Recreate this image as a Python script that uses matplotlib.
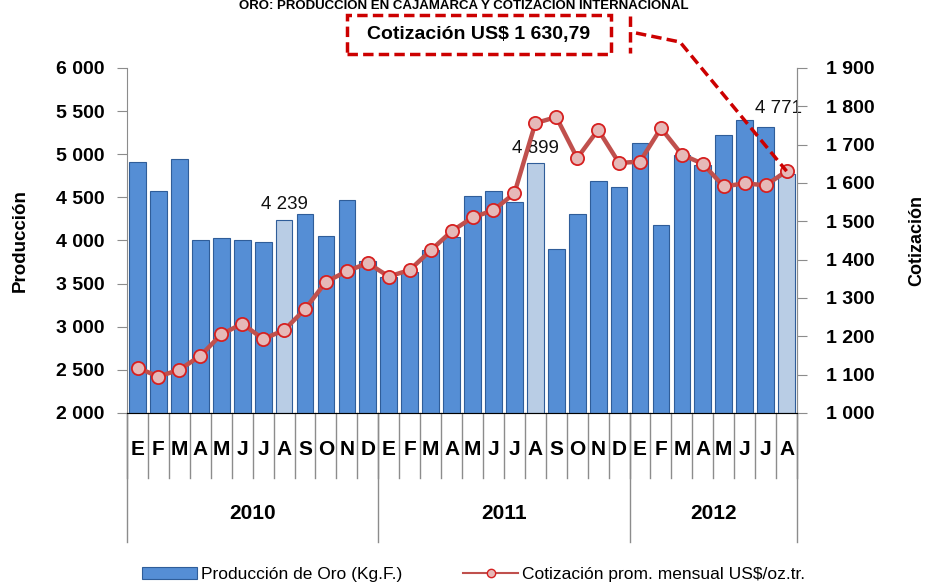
import numpy as np
import matplotlib
matplotlib.use("Agg")
import matplotlib.pyplot as plt
from matplotlib.patches import Patch, Rectangle
from matplotlib.lines import Line2D

plt.rcParams['font.family'] = ['Liberation Sans', 'DejaVu Sans']

months = ["E", "F", "M", "A", "M", "J", "J", "A", "S", "O", "N", "D",
          "E", "F", "M", "A", "M", "J", "J", "A", "S", "O", "N", "D",
          "E", "F", "M", "A", "M", "J", "J", "A"]
years = ["2010", "2011", "2012"]
months_per_year = [12, 12, 8]

# production of gold (Kg.F.)
produccion = [4910, 4570, 4940, 4010, 4030, 4010, 3985, 4239, 4310, 4050, 4470, 3760,
              3580, 3635, 3890, 4040, 4520, 4570, 4450, 4899, 3900, 4310, 4690, 4620,
              5130, 4180, 4995, 4880, 5220, 5400, 5310, 4771]
# monthly average price US$/oz.tr.
cotizacion = [1118, 1095, 1113, 1149, 1205, 1233, 1193, 1216, 1271, 1342, 1370, 1391,
              1356, 1373, 1424, 1474, 1510, 1529, 1573, 1756, 1772, 1665, 1739, 1652,
              1656, 1743, 1674, 1650, 1591, 1599, 1594, 1630.79]
labeled = {7: "4 239", 19: "4 899", 31: "4 771"}

bar_color = "#558ED5"
bar_light = "#B9CDE5"
line_color = "#C0504D"
red = "#CC0000"
W, H = 928, 583

fig = plt.figure(figsize=(9.28, 5.83), dpi=100)
ax = fig.add_axes([0.1369, 0.2916, 0.7220, 0.5918])
x = np.arange(len(produccion))
colors = [bar_light if i in labeled else bar_color for i in x]
ax.bar(x, np.array(produccion) - 2000, bottom=2000, width=0.8, color=colors,
       edgecolor="#2F5D99", linewidth=0.8, zorder=2)
# data labels (the last one is lifted above the price line, as in the original)
label_shift = {7: (0, 180), 19: (0, 170), 31: (-0.4, 760)}
for i, txt in labeled.items():
    dx, dy = label_shift[i]
    ax.text(i + dx, produccion[i] + dy, txt, ha="center", va="center", fontsize=13.5,
            color="#111111", zorder=5)

ax.set_xlim(-0.5, len(produccion) - 0.5)
ax.set_ylim(2000, 6000)
yt = np.arange(2000, 6001, 500)
ax.set_yticks(yt)
ax.set_yticklabels([f"{v:,}".replace(",", " ") for v in yt], fontsize=14,
                   fontweight="bold")
ax.set_xticks([])
ax.spines["top"].set_visible(False)
for s in ["left", "bottom", "right"]:
    ax.spines[s].set_color("#8C8C8C")
ax.tick_params(axis="y", colors="#8C8C8C", labelcolor="black", length=7, pad=9)
ax.set_ylabel("Producción", fontsize=13.5, fontweight="bold", labelpad=20)

ax2 = ax.twinx()
ax2.plot(x, cotizacion, color=line_color, lw=3.2, marker="o", markersize=9.5,
         markerfacecolor="#E6B9B8", markeredgecolor="#D62020", markeredgewidth=1.3,
         zorder=4)
ax2.set_ylim(1000, 1900)
yt2 = np.arange(1000, 1901, 100)
ax2.set_yticks(yt2)
ax2.set_yticklabels([f"{v:,}".replace(",", " ") for v in yt2], fontsize=14,
                    fontweight="bold")
ax2.spines["top"].set_visible(False)
ax2.spines["right"].set_color("#8C8C8C")
ax2.spines["left"].set_visible(False)
ax2.tick_params(axis="y", colors="#8C8C8C", labelcolor="black", length=7, pad=14)
ax2.set_ylabel("Cotización", fontsize=13, fontweight="bold", labelpad=24)

# category axis: month labels, separators, year labels
tr = ax.get_xaxis_transform()
for i, m in enumerate(months):
    ax.text(i, -0.107, m, transform=tr, ha="center", va="center", fontsize=15,
            fontweight="bold")
for b in range(len(months) + 1):
    ax.plot([b - 0.5, b - 0.5], [0, -0.188], transform=tr, color="#8C8C8C",
            lw=1, clip_on=False)
start = 0
edges = [0]
for y, n in zip(years, months_per_year):
    ax.text(start + n / 2 - 0.5, -0.29, y, transform=tr, ha="center", va="center",
            fontsize=15, fontweight="bold")
    start += n
    edges.append(start)
for e in edges:
    ax.plot([e - 0.5, e - 0.5], [0, -0.374], transform=tr, color="#8C8C8C",
            lw=1, clip_on=False)

# title
fig.text(0.5, 1.0, "ORO: PRODUCCIÓN EN CAJAMARCA Y COTIZACIÓN INTERNACIONAL",
         ha="center", va="top", fontsize=9.5, fontweight="bold", zorder=1)

# callout box
dash = (0, (3, 1.5))
fig.add_artist(Rectangle((347 / W, 1 - 54 / H), 264 / W, 39 / H,
                         transform=fig.transFigure, facecolor="white",
                         edgecolor=red, lw=2.5, linestyle=dash, zorder=5))
fig.text(479 / W, 1 - 34.5 / H, "Cotización US$ 1 630,79", ha="center", va="center",
         fontsize=14, fontweight="bold", zorder=6)
fig.add_artist(Line2D([630 / W, 630 / W], [1 - 16 / H, 1 - 53 / H],
                      transform=fig.transFigure, color=red, lw=2.5,
                      linestyle=dash, zorder=5))
# connector from box to the last price point
last_pt = ax2.transData.transform((len(cotizacion) - 1, cotizacion[-1]))
last_fig = fig.transFigure.inverted().transform(last_pt)
fig.add_artist(Line2D([636 / W, 680 / W, last_fig[0]],
                      [1 - 33 / H, 1 - 42 / H, last_fig[1]],
                      transform=fig.transFigure, color=red, lw=2.5,
                      linestyle=dash, zorder=10))

handles = [Patch(facecolor=bar_color, edgecolor="#2F5D99", linewidth=0.8),
           Line2D([], [], color=line_color, lw=1.5, marker="o", markersize=6,
                  markerfacecolor="#E6B9B8", markeredgecolor="#D62020")]
fig.legend(handles, ["Producción de Oro (Kg.F.)",
                     "Cotización prom. mensual US$/oz.tr."],
           loc="center", bbox_to_anchor=(0.51, 0.015), ncol=2, frameon=False,
           fontsize=12.5, handlelength=3.2, handleheight=0.7, columnspacing=3.5,
           handletextpad=0.2)

fig.savefig("out.png", dpi=100)
